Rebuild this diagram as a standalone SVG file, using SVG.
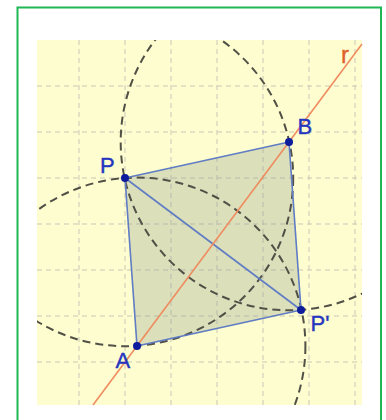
<svg xmlns="http://www.w3.org/2000/svg" width="386" height="420" viewBox="0 0 386 420">
<style>
.grid{stroke:#c9c9b8;stroke-width:1;stroke-dasharray:5 4;fill:none}
.arc{fill:none;stroke:#505046;stroke-width:2;stroke-dasharray:8 5}
.edge{stroke:#5f7cc4;stroke-width:1.6;fill:none}
.pt{fill:#0c1c9c}
.lbl{font-family:"Liberation Sans",Arial,sans-serif;font-size:22px;fill:#2535c0;stroke:#2535c0;stroke-width:0.4}
</style>
<defs>
<clipPath id="area"><rect x="37" y="40" width="325" height="365"/></clipPath>
</defs>
<rect x="0" y="0" width="386" height="420" fill="#ffffff"/>
<rect x="17.5" y="7.5" width="363.5" height="420" fill="#ffffff" stroke="#1fb854" stroke-width="2"/>
<rect x="37" y="40" width="325" height="365" fill="#fdfdcf"/>
<g id="grid" clip-path="url(#area)">
<path class="grid" d="M79 40V405M125 40V405M171 40V405M217 40V405M263 40V405M309 40V405M355 40V405"/>
<path class="grid" d="M37 86H362M37 132H362M37 178H362M37 224H362M37 270H362M37 316H362M37 362H362"/>
</g>
<polygon id="fill" points="125,178 289,142 301,310 137,346" fill="#909a8c" fill-opacity="0.3"/>
<g id="circles" clip-path="url(#area)">
<circle class="arc" cx="289" cy="142" r="168.3"/>
<circle class="arc" cx="137" cy="346" r="168.4"/>
<circle class="arc" cx="125" cy="178" r="168.2"/>
</g>
<g id="connectors">
<line class="edge" x1="125" y1="178" x2="289" y2="142"/>
<line class="edge" x1="289" y1="142" x2="301" y2="310"/>
<line class="edge" x1="301" y1="310" x2="137" y2="346"/>
<line class="edge" x1="137" y1="346" x2="125" y2="178"/>
<line class="edge" x1="125" y1="178" x2="301" y2="310"/>
<line id="r" x1="93" y1="405" x2="362" y2="44" stroke="#ef8c60" stroke-width="1.6"/>
</g>
<g id="label-r"><text x="341" y="63" font-family="Liberation Sans,Arial,sans-serif" font-size="24" fill="#e0602c" stroke="#e0602c" stroke-width="0.4">r</text></g>
<g id="P"><circle class="pt" cx="125" cy="178" r="4"/><text class="lbl" x="100" y="173">P</text></g>
<g id="B"><circle class="pt" cx="289" cy="142" r="4"/><text class="lbl" x="297.5" y="133.5">B</text></g>
<g id="A"><circle class="pt" cx="137" cy="346" r="4"/><text class="lbl" x="115.5" y="368">A</text></g>
<g id="Pp"><circle class="pt" cx="301" cy="310" r="4"/><text class="lbl" x="310.5" y="331">P'</text></g>
</svg>
